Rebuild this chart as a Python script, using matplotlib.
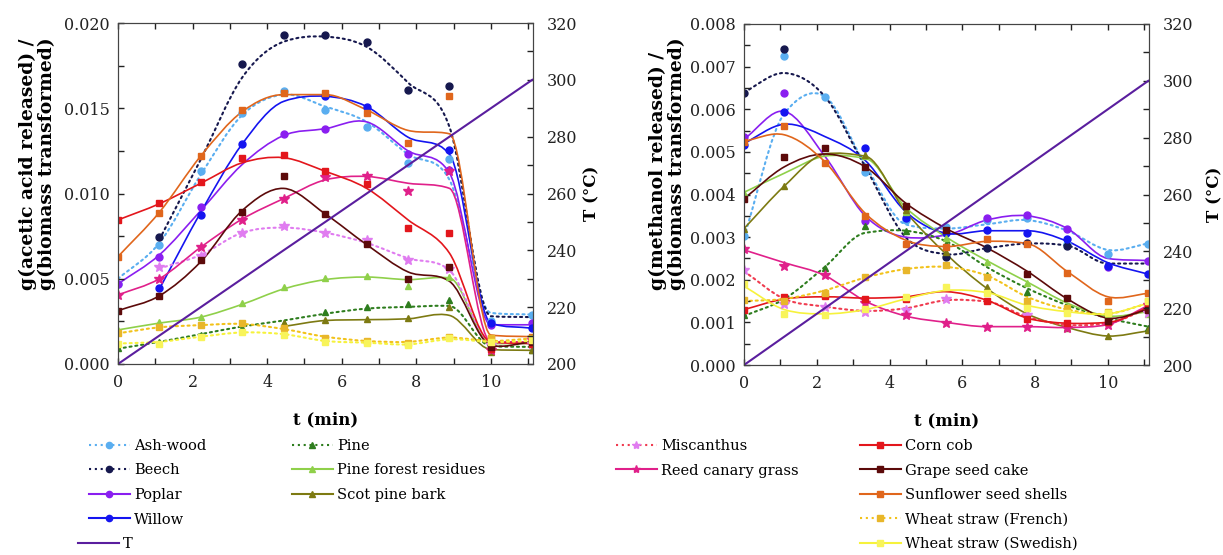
import numpy as np
import matplotlib
matplotlib.use("Agg")
import matplotlib.pyplot as plt
from matplotlib.path import Path
from matplotlib.patches import PathPatch
from matplotlib.lines import Line2D
from matplotlib.ticker import MultipleLocator

plt.rcParams['font.family'] = ['DejaVu Serif']

nan = np.nan

# sampling times (min) and temperature ramp
t_min = [0, 1.11, 2.22, 3.33, 4.44, 5.56, 6.67, 7.78, 8.89, 10.0, 11.11]
T_vals = [200, 210, 220, 230, 240, 250, 260, 270, 280, 290, 300]

names = ['Ash-wood', 'Beech', 'Poplar', 'Willow',
         'Pine', 'Pine forest residues', 'Scot pine bark',
         'Miscanthus', 'Reed canary grass',
         'Corn cob', 'Grape seed cake', 'Sunflower seed shells',
         'Wheat straw (French)', 'Wheat straw (Swedish)']

# acetic acid, g/g x 1e-3 : measured points and fitted curve values
ac_ash_pts = [4.7, 7.0, 11.3, 14.7, 16.0, 14.9, 13.9, 11.8, 12.0, 2.5, 2.9]
ac_ash_fit = [5.0, 7.1, 11.1, 14.6, 15.8, 15.1, 14.2, 12.3, 10.8, 3.0, 2.9]
ac_beech_pts = [nan, 7.47, nan, 17.6, 19.3, 19.3, 18.9, 16.05, 16.3, nan, nan]
ac_beech_fit = [nan, 7.3, 12.0, 16.8, 18.9, 19.2, 18.6, 16.5, 13.9, 2.8, 2.75]
ac_poplar_pts = [4.7, 6.3, 9.2, nan, 13.5, 13.8, nan, 12.3, 11.4, 2.3, 2.4]
ac_poplar_fit = [4.7, 6.4, 9.0, 11.7, 13.4, 13.8, 14.2, 12.5, 11.2, 2.3, 2.3]
ac_willow_pts = [nan, 4.44, 8.74, 12.9, nan, 15.7, 15.1, nan, 12.55, 2.4, 2.1]
ac_willow_fit = [nan, 4.4, 8.9, 12.9, 15.4, 15.7, 15.1, 13.3, 12.3, 2.4, 2.1]
ac_pine_pts = [0.92, 1.31, 1.7, 2.09, 2.42, 3.07, 3.32, 3.5, 3.75, 1.0, 0.8]
ac_pine_fit = [0.9, 1.3, 1.75, 2.2, 2.55, 2.95, 3.25, 3.35, 3.4, 1.05, 1.0]
ac_pfr_pts = [2.0, 2.48, 2.74, 3.56, 4.5, 5.02, 5.16, 4.57, 5.1, 0.9, 1.2]
ac_pfr_fit = [2.0, 2.4, 2.75, 3.5, 4.4, 4.95, 5.1, 4.95, 5.05, 1.2, 1.2]
ac_scot_pts = [nan, nan, nan, nan, 2.42, 2.58, 2.62, 2.68, 3.36, 0.72, 0.82]
ac_scot_fit = [nan, nan, nan, nan, 2.2, 2.55, 2.6, 2.65, 2.85, 0.85, 0.8]
ac_misc_pts = [nan, 5.67, 6.33, 7.66, 8.11, 7.66, 7.27, 6.1, 5.55, 1.1, 1.2]
ac_misc_fit = [nan, 5.6, 6.4, 7.7, 8.0, 7.7, 7.1, 6.2, 5.5, 1.3, 1.2]
ac_reed_pts = [4.05, 4.97, 6.88, 8.45, 9.68, 10.95, 11.05, 10.17, 11.3, 0.8, 1.4]
ac_reed_fit = [4.05, 5.0, 6.85, 8.5, 9.7, 10.8, 11.0, 10.6, 10.3, 1.3, 1.3]
ac_corn_pts = [8.45, 9.46, 10.65, 12.1, 12.26, 11.3, 10.56, 8.0, 7.7, 0.9, 1.2]
ac_corn_fit = [8.45, 9.4, 10.6, 11.8, 12.1, 11.3, 10.3, 8.45, 6.5, 1.3, 1.2]
ac_grape_pts = [3.13, 3.99, 6.1, 8.93, 11.05, 8.78, 7.02, 5.0, 5.67, 1.0, 1.3]
ac_grape_fit = [3.13, 4.0, 6.0, 9.0, 10.3, 8.8, 7.0, 5.4, 4.85, 1.1, 1.3]
ac_sun_pts = [6.3, 8.84, 12.2, 14.9, 15.9, 15.9, 14.7, 12.95, 15.7, 1.5, 1.6]
ac_sun_fit = [6.3, 8.9, 12.2, 14.8, 15.8, 15.8, 14.9, 13.7, 13.5, 1.7, 1.6]
ac_wfr_pts = [1.8, 2.15, 2.27, 2.4, 2.1, 1.55, 1.37, 1.25, 1.6, 1.5, 1.5]
ac_wfr_fit = [1.8, 2.15, 2.28, 2.35, 2.05, 1.6, 1.35, 1.3, 1.55, 1.35, 1.5]
ac_wsw_pts = [1.2, 1.2, 1.6, 1.86, 1.7, 1.3, 1.25, 1.1, 1.5, 1.3, 1.4]
ac_wsw_fit = [1.2, 1.3, 1.6, 1.85, 1.75, 1.35, 1.25, 1.15, 1.45, 1.3, 1.35]

# methanol, g/g x 1e-3
me_ash_pts = [3.03, 7.25, 6.28, 4.53, 3.4, 3.24, 3.4, 3.44, 2.85, 2.6, 2.83]
me_ash_fit = [3.0, 5.9, 6.3, 4.7, 3.3, 3.2, 3.3, 3.4, 3.15, 2.7, 2.85]
me_beech_pts = [6.37, 7.41, nan, nan, nan, 2.53, 2.74, 2.87, 2.79, nan, nan]
me_beech_fit = [6.4, 6.85, 6.3, 4.65, 3.0, 2.6, 2.74, 2.85, 2.8, 2.38, 2.38]
me_poplar_pts = [5.36, 6.37, nan, 3.39, nan, nan, 3.44, 3.53, 3.2, 2.31, 2.44]
me_poplar_fit = [5.3, 5.95, 4.9, 3.5, 3.0, 3.05, 3.4, 3.5, 3.2, 2.5, 2.45]
me_willow_pts = [5.16, 5.94, nan, 5.08, 3.44, 3.1, 3.17, 3.1, 2.95, 2.33, 2.13]
me_willow_fit = [5.2, 5.65, 5.36, 4.8, 3.6, 3.09, 3.15, 3.15, 2.9, 2.4, 2.13]
me_pine_pts = [1.17, nan, 2.28, 3.26, 3.14, 2.85, 2.11, 1.72, 1.29, 1.0, 0.86]
me_pine_fit = [1.15, 1.55, 2.3, 3.1, 3.15, 2.9, 2.3, 1.8, 1.4, 1.1, 0.9]
me_pfr_pts = [4.04, nan, nan, 4.9, 3.6, 2.97, 2.42, 1.93, 1.37, 1.17, 1.2]
me_pfr_fit = [4.05, 4.5, 4.9, 4.85, 3.7, 3.0, 2.45, 1.95, 1.45, 1.15, 1.25]
me_scot_pts = [3.18, 4.2, nan, 4.93, 3.64, 2.65, 1.84, 1.22, 0.87, 0.68, 0.82]
me_scot_fit = [3.2, 4.2, 4.95, 4.9, 3.6, 2.6, 1.8, 1.2, 0.88, 0.68, 0.8]
me_misc_pts = [2.24, 1.42, 1.35, 1.25, 1.29, 1.54, nan, 1.17, nan, nan, 1.23]
me_misc_fit = [2.2, 1.55, 1.37, 1.27, 1.33, 1.52, 1.49, 1.13, 0.94, 0.98, 1.33]
me_reed_pts = [2.71, 2.33, 2.11, 1.46, 1.17, 0.99, 0.88, 0.9, 0.86, 0.94, 1.41]
me_reed_fit = [2.7, 2.4, 2.1, 1.5, 1.15, 1.0, 0.9, 0.9, 0.88, 0.95, 1.4]
me_corn_pts = [1.3, 1.6, 1.62, 1.56, 1.55, nan, 1.51, 1.07, 0.98, 1.02, 1.33]
me_corn_fit = [1.3, 1.55, 1.6, 1.57, 1.6, 1.72, 1.52, 1.1, 0.98, 1.0, 1.35]
me_grape_pts = [3.89, 4.89, 5.1, 4.64, 3.74, 3.17, nan, 2.13, 1.58, 1.04, 1.29]
me_grape_fit = [3.9, 4.65, 4.95, 4.65, 3.8, 3.2, 2.75, 2.2, 1.55, 1.1, 1.3]
me_sun_pts = [5.24, 5.6, 4.75, 3.5, 2.83, 2.78, 2.95, 2.84, 2.17, 1.5, 1.68]
me_sun_fit = [5.25, 5.4, 4.77, 3.56, 2.93, 2.78, 2.9, 2.85, 2.19, 1.6, 1.68]
me_wfr_pts = [1.52, 1.49, 1.7, 2.06, 2.24, 2.35, 2.06, 1.49, 1.33, 1.25, 1.49]
me_wfr_fit = [1.5, 1.55, 1.75, 2.05, 2.25, 2.3, 2.1, 1.6, 1.3, 1.2, 1.45]
me_wsw_pts = [1.9, 1.2, 1.17, 1.31, 1.59, 1.84, 1.7, 1.33, 1.21, 1.21, 1.49]
me_wsw_fit = [1.85, 1.3, 1.2, 1.3, 1.55, 1.75, 1.7, 1.4, 1.25, 1.2, 1.45]

acetic = [(ac_ash_pts, ac_ash_fit), (ac_beech_pts, ac_beech_fit), (ac_poplar_pts, ac_poplar_fit),
          (ac_willow_pts, ac_willow_fit), (ac_pine_pts, ac_pine_fit), (ac_pfr_pts, ac_pfr_fit),
          (ac_scot_pts, ac_scot_fit), (ac_misc_pts, ac_misc_fit), (ac_reed_pts, ac_reed_fit),
          (ac_corn_pts, ac_corn_fit), (ac_grape_pts, ac_grape_fit), (ac_sun_pts, ac_sun_fit),
          (ac_wfr_pts, ac_wfr_fit), (ac_wsw_pts, ac_wsw_fit)]
methanol = [(me_ash_pts, me_ash_fit), (me_beech_pts, me_beech_fit), (me_poplar_pts, me_poplar_fit),
            (me_willow_pts, me_willow_fit), (me_pine_pts, me_pine_fit), (me_pfr_pts, me_pfr_fit),
            (me_scot_pts, me_scot_fit), (me_misc_pts, me_misc_fit), (me_reed_pts, me_reed_fit),
            (me_corn_pts, me_corn_fit), (me_grape_pts, me_grape_fit), (me_sun_pts, me_sun_fit),
            (me_wfr_pts, me_wfr_fit), (me_wsw_pts, me_wsw_fit)]

DOT = (0, (1.0, 1.8))
# name -> line colour, marker colour, line style, marker
styles = {
    'Ash-wood': ('#5aaef0', '#5aaef0', DOT, 'o'),
    'Beech': ('#16184e', '#16184e', DOT, 'o'),
    'Poplar': ('#8a1ef0', '#8a1ef0', '-', 'o'),
    'Willow': ('#1414f0', '#1414f0', '-', 'o'),
    'Pine': ('#2e7d1e', '#2e7d1e', DOT, '^'),
    'Pine forest residues': ('#8fd04a', '#8fd04a', '-', '^'),
    'Scot pine bark': ('#7d7a12', '#7d7a12', '-', '^'),
    'Miscanthus': ('#f03c50', '#e07cf0', DOT, '*'),
    'Reed canary grass': ('#e0208a', '#e0208a', '-', '*'),
    'Corn cob': ('#e3161c', '#e3161c', '-', 's'),
    'Grape seed cake': ('#5c0a0a', '#5c0a0a', '-', 's'),
    'Sunflower seed shells': ('#e0661c', '#e0661c', '-', 's'),
    'Wheat straw (French)': ('#f2c21a', '#e8b62a', DOT, 's'),
    'Wheat straw (Swedish)': ('#f6f23c', '#f8f45a', '-', 's'),
}
T_color = '#5a1e9e'


def smooth_path(x, y):
    x = np.asarray(x, float)
    y = np.asarray(y, float)
    ok = ~np.isnan(y)
    x, y = x[ok], y[ok]
    n = len(x)
    d = np.diff(y) / np.diff(x)
    m = np.zeros(n)
    m[0], m[-1] = d[0], d[-1]
    for i in range(1, n - 1):
        lim = 3 * min(abs(d[i - 1]), abs(d[i]))
        m[i] = np.clip((d[i - 1] + d[i]) / 2, -lim, lim)
    verts = [(x[0], y[0])]
    codes = [Path.MOVETO]
    for i in range(n - 1):
        h = x[i + 1] - x[i]
        verts += [(x[i] + h / 3, y[i] + m[i] * h / 3),
                  (x[i + 1] - h / 3, y[i + 1] - m[i + 1] * h / 3),
                  (x[i + 1], y[i + 1])]
        codes += [Path.CURVE4] * 3
    return Path(verts, codes)


def draw_panel(ax, data, ymax, ymajor, yminor, left_plot, tpad):
    for name, (pts, fit) in zip(names, data):
        lc, mc, ls, mk = styles[name]
        if left_plot and name == 'Miscanthus':
            lc = '#e07cf0'
        if left_plot and name == 'Wheat straw (Swedish)':
            ls = DOT
        y_fit = np.array(fit) * 1e-3
        ax.add_patch(PathPatch(smooth_path(t_min, y_fit), fill=False, edgecolor=lc,
                               lw=1.5 if ls == DOT else 1.2, linestyle=ls, capstyle='round'))
        ms = 7 if mk == '*' else 5
        ax.plot(t_min, np.array(pts) * 1e-3, ls='none', marker=mk, ms=ms, color=mc, mec=mc)
    ax.set_xlim(0, 11.13)
    ax.set_ylim(0, ymax)
    ax.xaxis.set_major_locator(MultipleLocator(2))
    ax.xaxis.set_minor_locator(MultipleLocator(1))
    ax.yaxis.set_major_locator(MultipleLocator(ymajor))
    ax.yaxis.set_minor_locator(MultipleLocator(yminor))
    ax.yaxis.set_major_formatter(plt.FormatStrFormatter('%.3f'))
    ax.tick_params(which='both', direction='in', top=True, right=False, length=4, width=1,
                   labelsize=11.5, colors='#222222')
    ax.tick_params(axis='x', pad=7)
    ax.tick_params(axis='y', pad=6)
    for s in ax.spines.values():
        s.set_color('#444444')

    axT = ax.twinx()
    axT.plot(t_min, T_vals, color=T_color, lw=1.5)
    axT.set_ylim(200, 320)
    axT.yaxis.set_major_locator(MultipleLocator(20))
    axT.yaxis.set_minor_locator(MultipleLocator(10))
    axT.tick_params(which='both', direction='in', length=4, width=1, labelsize=11.5,
                    colors='#222222', pad=10)
    for s in axT.spines.values():
        s.set_color('#444444')
    ax.set_xlabel('t (min)', fontsize=12, fontweight='bold', labelpad=15)
    axT.set_ylabel('T (°C)', fontsize=12, fontweight='bold', labelpad=tpad)
    return axT


fig = plt.figure(figsize=(12.23, 5.55), dpi=100)
W, H = 1223, 555
axL = fig.add_axes([118 / W, (H - 364) / H, 415 / W, 341 / H])
axR = fig.add_axes([744 / W, (H - 365) / H, 405 / W, 341 / H])

draw_panel(axL, acetic, 0.020, 0.005, 0.0025, True, 4)
draw_panel(axR, methanol, 0.008, 0.001, 0.0005, False, 9)

fig.text(37 / W, 1 - 290 / H, 'g(acetic acid released) /\ng(biomass transformed)',
         rotation=90, ha='center', va='bottom', multialignment='left',
         fontsize=13.5, fontweight='bold', linespacing=1.05)
fig.text(667 / W, 1 - 290 / H, 'g(methanol released) /\ng(biomass transformed)',
         rotation=90, ha='center', va='bottom', multialignment='left',
         fontsize=13.5, fontweight='bold', linespacing=1.05)


def handle(name):
    lc, mc, ls, mk = styles[name]
    return Line2D([], [], color=lc, ls=ls, lw=1.5, marker=mk, mfc=mc, mec=mc,
                  ms=6 if mk == '*' else 4.5)


columns = [(89, names[0:4]), (292, names[4:7]), (616, names[7:9]), (860, names[9:14])]
for x0, col in columns:
    fig.legend([handle(n) for n in col], col, loc='upper left',
               bbox_to_anchor=(x0 / W, 1 - 439 / H), frameon=False, fontsize=10.5,
               handlelength=2.8, handletextpad=0.3, labelspacing=0.72,
               borderpad=0, borderaxespad=0)
fig.legend([Line2D([], [], color=T_color, lw=1.5)], ['T'], loc='upper left',
           bbox_to_anchor=(78 / W, 1 - 537 / H), frameon=False, fontsize=10.5,
           handlelength=2.8, handletextpad=0.3, borderpad=0, borderaxespad=0)

fig.savefig('out.png', dpi=100)
